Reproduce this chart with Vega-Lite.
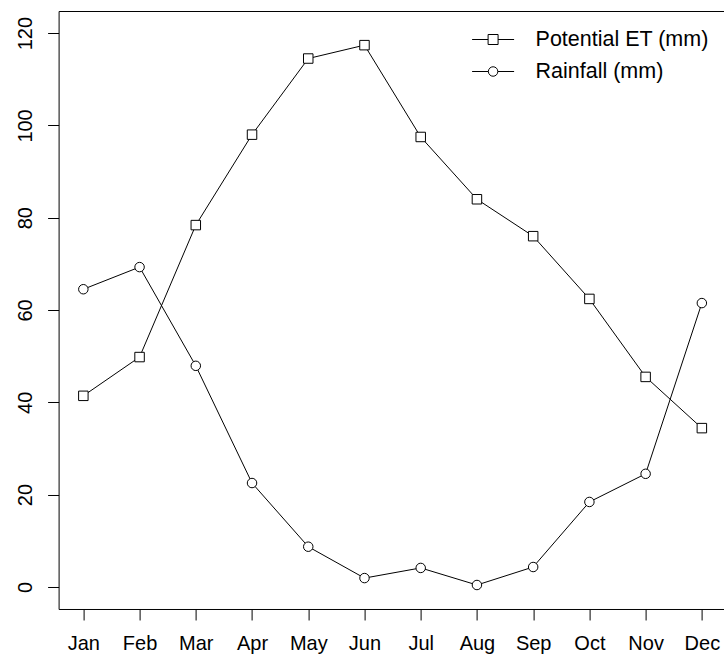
{
  "$schema": "https://vega.github.io/schema/vega-lite/v6.json",
  "width": 668,
  "height": 598,
  "autosize": {"type": "none"},
  "padding": {"left": 58.6, "top": 11, "right": 0, "bottom": 48},
  "background": "white",
  "config": {
    "font": "Liberation Sans",
    "view": {"stroke": "black", "strokeWidth": 1},
    "axis": {
      "domain": false,
      "grid": false,
      "title": null,
      "tickColor": "black",
      "tickSize": 11,
      "tickWidth": 1,
      "labelColor": "black",
      "labelFontSize": 20,
      "labelFont": "Liberation Sans"
    }
  },
  "data": {
    "values": [
      {"month": "Jan", "series": "Potential ET (mm)", "value": 41.4},
      {"month": "Feb", "series": "Potential ET (mm)", "value": 49.8},
      {"month": "Mar", "series": "Potential ET (mm)", "value": 78.4},
      {"month": "Apr", "series": "Potential ET (mm)", "value": 98.0},
      {"month": "May", "series": "Potential ET (mm)", "value": 114.5},
      {"month": "Jun", "series": "Potential ET (mm)", "value": 117.4},
      {"month": "Jul", "series": "Potential ET (mm)", "value": 97.5},
      {"month": "Aug", "series": "Potential ET (mm)", "value": 84.0},
      {"month": "Sep", "series": "Potential ET (mm)", "value": 76.0},
      {"month": "Oct", "series": "Potential ET (mm)", "value": 62.4},
      {"month": "Nov", "series": "Potential ET (mm)", "value": 45.5},
      {"month": "Dec", "series": "Potential ET (mm)", "value": 34.4},
      {"month": "Jan", "series": "Rainfall (mm)", "value": 64.5},
      {"month": "Feb", "series": "Rainfall (mm)", "value": 69.3},
      {"month": "Mar", "series": "Rainfall (mm)", "value": 47.9},
      {"month": "Apr", "series": "Rainfall (mm)", "value": 22.5},
      {"month": "May", "series": "Rainfall (mm)", "value": 8.7},
      {"month": "Jun", "series": "Rainfall (mm)", "value": 1.9},
      {"month": "Jul", "series": "Rainfall (mm)", "value": 4.1},
      {"month": "Aug", "series": "Rainfall (mm)", "value": 0.4},
      {"month": "Sep", "series": "Rainfall (mm)", "value": 4.3},
      {"month": "Oct", "series": "Rainfall (mm)", "value": 18.4},
      {"month": "Nov", "series": "Rainfall (mm)", "value": 24.5},
      {"month": "Dec", "series": "Rainfall (mm)", "value": 61.5}
    ]
  },
  "encoding": {
    "x": {
      "field": "month",
      "type": "nominal",
      "sort": ["Jan", "Feb", "Mar", "Apr", "May", "Jun", "Jul", "Aug", "Sep", "Oct", "Nov", "Dec"],
      "scale": {"type": "point", "padding": 0.44},
      "axis": {"labelAngle": 0, "labelPadding": 14, "labelBaseline": "top"}
    },
    "y": {
      "field": "value",
      "type": "quantitative",
      "scale": {"domain": [-4.8, 124.8], "nice": false, "zero": false},
      "axis": {
        "values": [0, 20, 40, 60, 80, 100, 120],
        "labelAngle": 270,
        "labelAlign": "center",
        "labelBaseline": "alphabetic",
        "labelPadding": 16
      }
    }
  },
  "resolve": {"scale": {"shape": "independent"}, "legend": {"shape": "independent"}},
  "layer": [
    {
      "mark": {"type": "line", "color": "black", "strokeWidth": 1},
      "encoding": {"detail": {"field": "series", "type": "nominal"}}
    },
    {
      "mark": {"type": "point", "filled": true, "fill": "white", "stroke": "black", "strokeWidth": 1, "opacity": 1, "size": 90},
      "encoding": {
        "shape": {
          "field": "series",
          "type": "nominal",
          "scale": {"domain": ["Potential ET (mm)", "Rainfall (mm)"], "range": ["square", "circle"]},
          "legend": null
        }
      }
    },
    {
      "transform": [{"filter": "false"}],
      "mark": {"type": "point", "filled": false, "color": "black", "opacity": 1, "strokeWidth": 1, "size": 1764},
      "encoding": {
        "shape": {
          "field": "series",
          "type": "nominal",
          "scale": {
            "domain": ["Potential ET (mm)", "Rainfall (mm)"],
            "range": [
              "M-1,0H-0.238M0.238,0H1M-0.238,-0.238H0.238V0.238H-0.238Z",
              "M-1,0H-0.226M0.226,0H1M-0.226,0A0.226,0.226,0,1,1,0.226,0A0.226,0.226,0,1,1,-0.226,0Z"
            ]
          },
          "legend": {
            "title": null,
            "orient": "none",
            "legendX": 413,
            "legendY": 7,
            "padding": 0,
            "rowPadding": -24,
            "labelFontSize": 21.5,
            "labelColor": "black",
            "labelFont": "Liberation Sans",
            "labelOffset": 21,
            "labelLimit": 300,
            "symbolStrokeWidth": 1,
            "symbolOpacity": 1,
            "symbolSize": 1764
          }
        }
      }
    }
  ]
}
